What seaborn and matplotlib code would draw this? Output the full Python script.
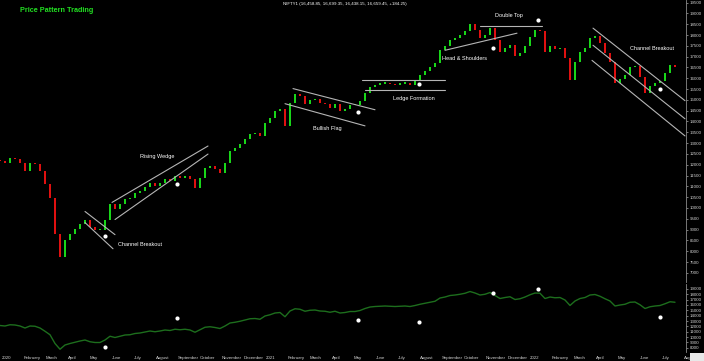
import numpy as np
import pandas as pd
import matplotlib
matplotlib.use("Agg")
import matplotlib.pyplot as plt
from matplotlib.patches import Rectangle
import seaborn as sns

# ---------------- data (weekly closes) ----------------
closes = [12167, 12074, 12307, 12260, 12074, 11701, 12074, 12027, 11701, 11095,
          10443, 8812, 7740, 8532, 8812, 9045, 9278, 9464, 9138, 8998,
          8998, 9464, 10163, 9930, 10163, 10396, 10443, 10676, 10769, 10955,
          11142, 11002, 11142, 11328, 11235, 11468, 11375, 11468, 11328, 10909,
          11375, 11841, 11934, 11794, 11608, 12074, 12633, 12773, 12959, 13192,
          13425, 13472, 13332, 13938, 14171, 14497, 14590, 13798, 14870, 15289,
          15196, 14823, 15009, 15056, 14870, 14823, 14637, 14823, 14497, 14590,
          14776, 14776, 14963, 15336, 15615, 15708, 15755, 15802, 15755, 15708,
          15755, 15802, 15708, 15895, 16128, 16314, 16501, 16687, 17293, 17479,
          17759, 17852, 17992, 18178, 18504, 18225, 17852, 17992, 18318, 17759,
          17200, 17386, 17526, 17013, 17153, 17479, 17899, 18225, 18178, 17200,
          17479, 17339, 17386, 16920, 15900, 16734, 17200, 17386, 17852, 17945,
          17619, 17153, 16734, 15802, 15988, 16128, 16501, 16547, 16035, 15336,
          15662, 15802, 15895, 16221, 16594, 16501]

month_labels = ["2020", "February", "March", "April", "May", "June", "July",
                "August", "September", "October", "November", "December",
                "2021", "February", "March", "April", "May", "June", "July",
                "August", "September", "October", "November", "December",
                "2022", "February", "March", "April", "May", "June", "July", "Aug"]

# signals (week index, price on main panel, value on lower panel)
signal_idx = [21.0, 35.4, 71.6, 83.8, 98.6, 107.6, 132.0]
signal_main = [8718, 11095, 14450, 15755, 17386, 18691, 15522]
signal_low = [8159, 13565, 13193, 12820, 18225, 18971, 13752]

# pattern trend lines: (x0, x1, y0, y1) in week index / price
pattern_lines = [
    (17.0, 23.0, 9837, 8765), (17.0, 22.6, 9324, 8113),          # channel 1
    (22.4, 41.6, 10256, 12866), (23.0, 41.6, 9464, 12493),       # rising wedge
    (58.6, 75.0, 15522, 14543), (57.0, 73.0, 14823, 13798),      # bullish flag
    (72.4, 89.0, 15941, 15941), (73.0, 89.0, 15475, 15475),      # ledge
    (89.0, 103.4, 17293, 18085),                                 # head & shoulders
    (96.0, 108.4, 18411, 18411),                                 # double top
    (118.6, 137.0, 18318, 14963), (118.6, 137.0, 17526, 14124),  # channel 2
    (118.4, 137.0, 16827, 13332),
]

pattern_names = ["Channel Breakout", "Rising Wedge", "Bullish Flag", "Ledge Formation",
                 "Head & Shoulders", "Double Top", "Channel Breakout"]
pattern_text_x = [23.6, 28.0, 62.6, 78.6, 88.4, 99.0, 126.0]
pattern_text_y = [8299, 12400, 13658, 15056, 16920, 18924, 17386]

# ---------------- figure ----------------
sns.set_style("dark", {"axes.facecolor": "black", "figure.facecolor": "black"})
plt.rcParams["font.family"] = ["Liberation Sans", "DejaVu Sans"]

W, H = 704, 361
fig = plt.figure(figsize=(W / 100, H / 100), dpi=100, facecolor="black")
ax = fig.add_axes([0, 1 - 282 / H, 686 / W, 282 / H])
ax2 = fig.add_axes([0, 1 - 352 / H, 686 / W, 68 / H], sharex=ax)

df = pd.DataFrame({"week": np.arange(len(closes)), "close": closes})
df["open"] = df["close"].shift(1).fillna(df["close"].iloc[0] + 40)
df["body"] = df["close"] - df["open"]
df["body"] = np.where(df["body"].abs() < 50, np.sign(df["body"] + 1e-9) * 50, df["body"])
cols = np.where(df["close"] >= df["open"], "#19d619", "#e01010")

ax.bar(df["week"], df["body"], bottom=df["open"], width=0.55, color=cols,
       linewidth=0)

for (x0, x1, y0, y1) in pattern_lines:
    ax.plot([x0, x1], [y0, y1], color="#b5b5b5", lw=0.8)

for name, tx, ty in zip(pattern_names, pattern_text_x, pattern_text_y):
    ax.text(tx, ty, name, color="white", fontsize=4.0, va="center", ha="left")

ax.scatter(signal_idx, signal_main, s=9, color="white", zorder=5, linewidths=0)

ax.set_xlim(0, 137.2)
ax.set_ylim(6575, 19620)

sns.lineplot(data=df, x="week", y="close", ax=ax2, color="#1d6e1d", lw=1.0)
ax2.scatter(signal_idx, signal_low, s=9, color="white", zorder=5, linewidths=0)
ax2.set_ylim(7227, 19905)

for a in (ax, ax2):
    a.set_facecolor("black")
    a.grid(False)
    for s in ("left", "top", "bottom"):
        a.spines[s].set_visible(False)
    a.spines["right"].set_color("#8a8a8a")
    a.spines["right"].set_linewidth(0.6)
    a.yaxis.tick_right()
    a.tick_params(axis="y", colors="#d0d0d0", labelsize=3.2, length=1.5,
                  width=0.4, pad=1)
    a.set_xlabel("")
    a.set_ylabel("")

ax.set_yticks(np.arange(7000, 19501, 500))
ax.set_yticklabels([str(v) for v in np.arange(7000, 19501, 500)])
ax2.set_yticks(np.arange(8000, 19001, 1000))
ax2.set_yticklabels([str(v) for v in np.arange(8000, 19001, 1000)])

month_pos = [(2 + 22 * m) / 5 for m in range(len(month_labels))]
ax.tick_params(axis="x", bottom=False, labelbottom=False)
ax2.set_xticks(month_pos)
ax2.set_xticklabels(month_labels)
ax2.tick_params(axis="x", colors="#d0d0d0", labelsize=3.2, length=1.2,
                width=0.4, pad=1.5)
for lbl in ax2.get_xticklabels():
    lbl.set_ha("left")

fig.text(20 / W, 1 - 11 / H, "Price Pattern Trading", color="#22e022",
         fontsize=5.2, weight="bold", va="center", ha="left")
fig.text(345 / W, 1 - 4 / H,
         "NIFTY1 (16,458.85, 16,699.35, 16,438.15, 16,659.45, +184.25)",
         color="white", fontsize=3.2, va="center", ha="center")

fig.patches.append(Rectangle((690 / W, 0), 14 / W, 8 / H, transform=fig.transFigure,
                             facecolor="#e8e8e8", edgecolor="none"))

fig.savefig("out.png", dpi=100, facecolor="black")
